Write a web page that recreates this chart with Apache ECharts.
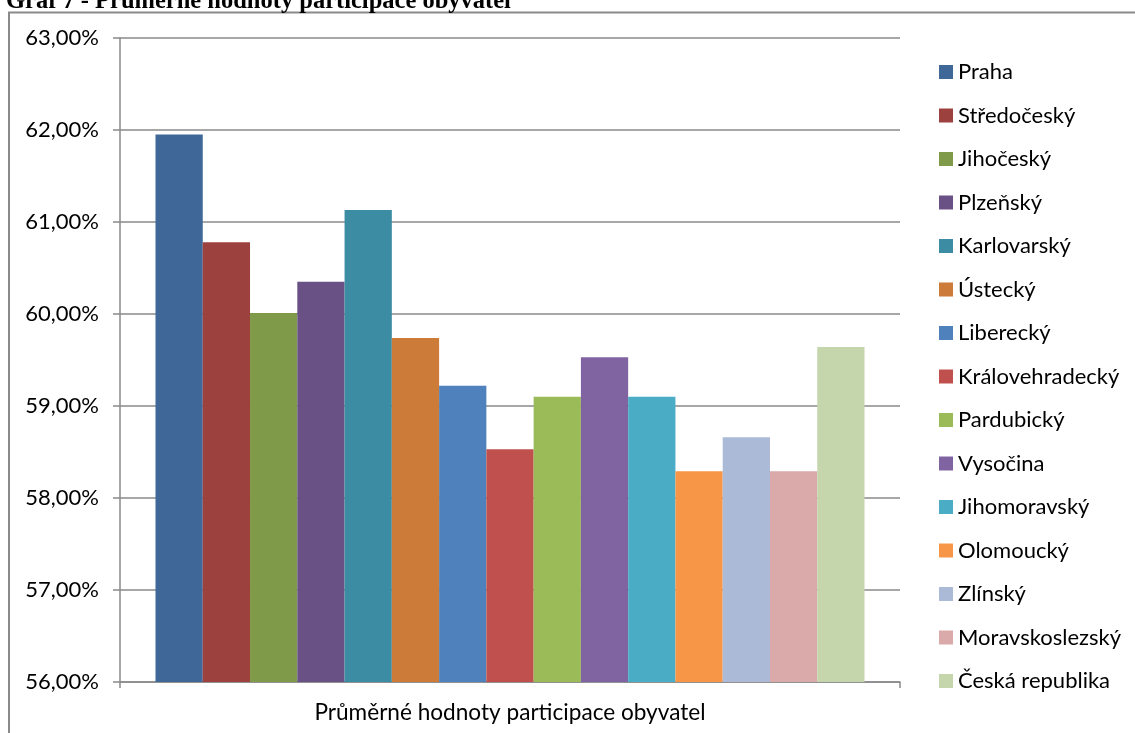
<!DOCTYPE html>
<html><head><meta charset="utf-8">
<script src="https://cdn.jsdelivr.net/npm/echarts@6/dist/echarts.min.js"></script>
<style>html,body{margin:0;padding:0;background:#fff}#c{width:1135px;height:733px}</style>
</head><body><div id="c"></div>
<script>
const categories = ['Průměrné hodnoty participace obyvatel'];
const regions = ['Praha','Středočeský','Jihočeský','Plzeňský','Karlovarský','Ústecký','Liberecký','Královehradecký','Pardubický','Vysočina','Jihomoravský','Olomoucký','Zlínský','Moravskoslezský','Česká republika'];
const values = [61.95, 60.78, 60.01, 60.35, 61.13, 59.74, 59.22, 58.53, 59.10, 59.53, 59.10, 58.29, 58.66, 58.29, 59.64];
const colors = ['#3F6898','#9D413F','#7F9A48','#695185','#3C8DA3','#CC7B38','#4F81BD','#C0504D','#9BBB59','#8064A2','#4BACC6','#F79646','#AABAD7','#D9AAA9','#C6D6AC'];
const yMin = 56, yMax = 63, yStep = 1;
const titleText = 'Graf 7 - Průměrné hodnoty participace obyvatel';

const FONT = 'Lato';
const FS = 22;
const chart = echarts.init(document.getElementById('c'), null, {renderer:'canvas'});
chart.setOption({
  animation:false,
  backgroundColor:'#fff',
  graphic:[
    {type:'rect', shape:{x:9,y:12.5,width:1200,height:800}, style:{fill:'none', stroke:'#8a8a8a', lineWidth:2}, z:0},
    {type:'text', x:6, y:14.5, style:{text:titleText, font:'bold 24.5px "Liberation Serif"', fill:'#000', verticalAlign:'bottom'}, z:10}
  ],
  grid:{left:120, right:235, top:38, bottom:51},
  legend:{
    orient:'vertical', left:934, top:56, itemWidth:14, itemHeight:14, itemGap:21.5,
    icon:'rect', data:regions,
    textStyle:{fontFamily:FONT, fontSize:FS, color:'#000', lineHeight:20}
  },
  xAxis:{
    type:'category', data:categories,
    axisLine:{lineStyle:{color:'#8a8a8a', width:1.5}},
    axisTick:{show:true, length:6, lineStyle:{color:'#8a8a8a', width:1.5}},
    axisLabel:{fontFamily:FONT, fontSize:22.6, color:'#000', margin:19}
  },
  yAxis:{
    type:'value', min:yMin, max:yMax, interval:yStep,
    axisLine:{show:true, lineStyle:{color:'#8a8a8a', width:1.5}},
    axisTick:{show:true, length:7, lineStyle:{color:'#8a8a8a', width:1.5}},
    splitLine:{lineStyle:{color:'#8a8a8a', width:1.5}},
    axisLabel:{fontFamily:FONT, fontSize:FS, color:'#000', margin:21,
      formatter:v=>v.toFixed(2).replace('.',',')+'%'}
  },
  series: regions.map((r,i)=>({
    name:r, type:'bar', data:[values[i]], barGap:'0%', barCategoryGap:'9.1%',
    itemStyle:{color:colors[i]}
  }))
});
</script></body></html>
